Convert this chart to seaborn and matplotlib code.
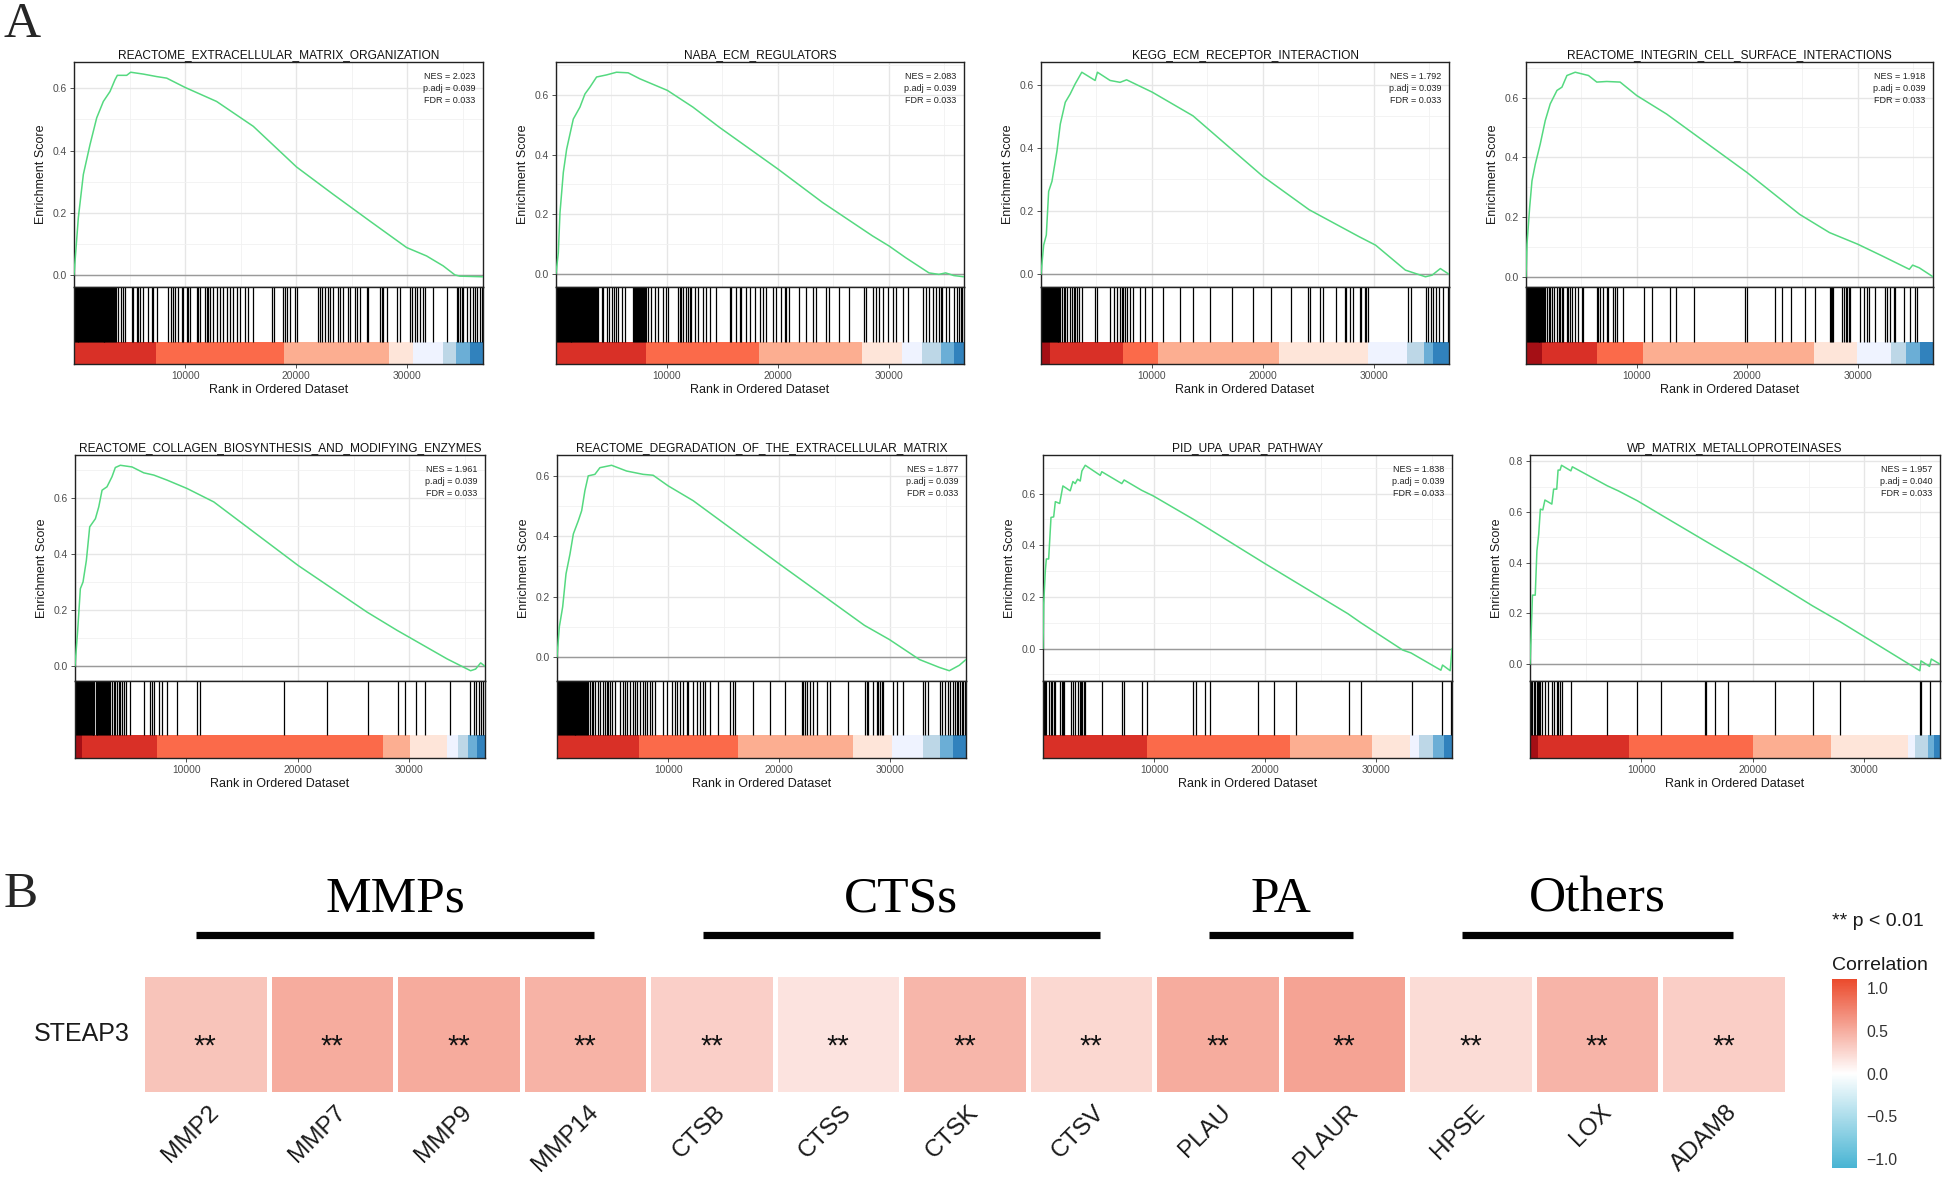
import numpy as np
import pandas as pd
import matplotlib
matplotlib.use("Agg")
import matplotlib.pyplot as plt
import matplotlib.transforms as mtransforms
import seaborn as sns
from matplotlib.colors import LinearSegmentedColormap, ListedColormap, BoundaryNorm
from matplotlib.ticker import MultipleLocator, FormatStrFormatter

# ------------------------------------------------------------------ data (A)
N_GENES = 36800

titles = ["REACTOME_EXTRACELLULAR_MATRIX_ORGANIZATION", "NABA_ECM_REGULATORS",
          "KEGG_ECM_RECEPTOR_INTERACTION", "REACTOME_INTEGRIN_CELL_SURFACE_INTERACTIONS",
          "REACTOME_COLLAGEN_BIOSYNTHESIS_AND_MODIFYING_ENZYMES",
          "REACTOME_DEGRADATION_OF_THE_EXTRACELLULAR_MATRIX",
          "PID_UPA_UPAR_PATHWAY", "WP_MATRIX_METALLOPROTEINASES"]
nes_values = [2.023, 2.083, 1.792, 1.918, 1.961, 1.877, 1.838, 1.957]
padj_values = [0.039, 0.039, 0.039, 0.039, 0.039, 0.039, 0.039, 0.040]
fdr_values = [0.033, 0.033, 0.033, 0.033, 0.033, 0.033, 0.033, 0.033]

p1_rank = [0, 390, 840, 1440, 2040, 2640, 3240, 3690, 3900, 4740, 5100, 6240, 7440, 8340, 10000,
           12830, 16130, 20030, 23330, 26630, 29930, 31720, 33220, 34270, 34720, 36800]
p1_es = [0, 0.184, 0.323, 0.419, 0.505, 0.558, 0.590, 0.628, 0.642, 0.642, 0.652, 0.646, 0.638,
         0.633, 0.603, 0.558, 0.478, 0.347, 0.259, 0.173, 0.088, 0.061, 0.029, 0.0, -0.004, -0.006]
p2_rank = [0, 210, 360, 660, 960, 1560, 2160, 2610, 3060, 3660, 4560, 5460, 6510, 7560, 10050,
           12350, 14750, 20030, 24050, 28550, 30050, 31540, 33640, 34540, 35140, 35890, 36800]
p2_es = [0, 0.071, 0.205, 0.340, 0.418, 0.519, 0.559, 0.603, 0.626, 0.660, 0.667, 0.676, 0.674,
         0.654, 0.615, 0.559, 0.491, 0.351, 0.239, 0.127, 0.093, 0.054, 0.003, -0.002, 0.003,
         -0.006, -0.010]
p3_rank = [0, 240, 480, 690, 990, 1440, 1740, 2190, 2630, 3080, 3680, 4880, 5090, 6230, 7130, 7720,
           10030, 13710, 20000, 24190, 28680, 30180, 32870, 34670, 35270, 36020, 36800]
p3_es = [0, 0.092, 0.124, 0.262, 0.294, 0.390, 0.475, 0.544, 0.570, 0.602, 0.639, 0.613, 0.639,
         0.613, 0.607, 0.615, 0.576, 0.501, 0.310, 0.204, 0.119, 0.092, 0.013, -0.008, -0.003,
         0.018, 0.0]
p4_rank = [0, 90, 330, 540, 840, 1290, 1740, 2190, 2800, 3250, 3700, 4450, 5650, 6400, 7300, 8510,
           10010, 12710, 19990, 24740, 27440, 30000, 32250, 34660, 34960, 35560, 36800]
p4_es = [0, 0.109, 0.232, 0.321, 0.377, 0.445, 0.523, 0.579, 0.624, 0.635, 0.674, 0.685, 0.674,
         0.652, 0.654, 0.652, 0.607, 0.545, 0.349, 0.209, 0.148, 0.109, 0.069, 0.025, 0.039,
         0.030, 0.0]
p5_rank = [0, 240, 480, 720, 1020, 1320, 1830, 2130, 2430, 2870, 3320, 3620, 4070, 5120, 6170, 7070,
           8260, 10060, 12460, 20030, 26230, 28920, 30420, 33410, 35510, 35960, 36410, 36800]
p5_es = [0, 0.128, 0.277, 0.301, 0.378, 0.498, 0.527, 0.569, 0.629, 0.641, 0.677, 0.710, 0.718,
         0.712, 0.691, 0.683, 0.665, 0.635, 0.587, 0.360, 0.193, 0.128, 0.094, 0.026, -0.016,
         -0.010, 0.012, 0.0]
p6_rank = [0, 210, 510, 810, 1170, 1470, 1920, 2220, 2510, 2810, 3410, 3860, 4910, 6260, 7750, 8650,
           10000, 12250, 20000, 27660, 29910, 32610, 34400, 35300, 36200, 36800]
p6_es = [0, 0.100, 0.166, 0.275, 0.341, 0.407, 0.451, 0.484, 0.550, 0.599, 0.604, 0.626, 0.634,
         0.615, 0.604, 0.601, 0.566, 0.517, 0.308, 0.105, 0.058, -0.008, -0.034, -0.045, -0.027,
         -0.008]
p7_rank = [0, 60, 210, 300, 510, 720, 960, 1110, 1500, 1790, 2450, 2690, 2900, 3110, 3350, 3500,
           3800, 5150, 5290, 7090, 7300, 8880, 9930, 13520, 20010, 27430, 28630, 32370, 33110,
           35800, 35950, 36640, 36800]
p7_es = [0, 0.17, 0.302, 0.347, 0.347, 0.508, 0.510, 0.569, 0.562, 0.630, 0.611, 0.647, 0.639,
         0.656, 0.649, 0.688, 0.710, 0.671, 0.685, 0.639, 0.653, 0.613, 0.591, 0.501, 0.328,
         0.135, 0.099, -0.006, -0.017, -0.084, -0.064, -0.086, 0.0]
p8_rank = [0, 90, 220, 470, 620, 780, 930, 1150, 1340, 1960, 2120, 2400, 2520, 2700, 2830, 3670,
           3800, 6940, 7930, 9640, 11820, 15710, 20000, 25350, 27840, 34990, 35090, 35860, 36020,
           36800]
p8_es = [0, 0.099, 0.272, 0.272, 0.447, 0.512, 0.611, 0.608, 0.647, 0.631, 0.690, 0.690, 0.765,
         0.765, 0.784, 0.762, 0.778, 0.703, 0.683, 0.644, 0.587, 0.486, 0.375, 0.230, 0.167,
         -0.026, 0.013, -0.009, 0.020, 0.0]

p1_hits = [0, 60, 150, 230, 330, 400, 490, 580, 650, 760, 830, 920, 1010, 1100, 1170, 1280, 1350,
           1440, 1530, 1610, 1700, 1790, 1880, 1960, 2050, 2140, 2230, 2300, 2410, 2480, 2570, 2660,
           2740, 2830, 2920, 3010, 3090, 3180, 3270, 3350, 3440, 3530, 3620, 3700, 3790,
           3990, 4200, 4380, 4590, 5190, 5340, 5640, 5790, 5940, 6240, 6690, 6990, 7140, 7440,
           8490, 8700, 8940, 9090, 9390, 9690, 9840, 10140, 10290, 10440, 11040, 11190, 11340,
           11790, 11940, 12090, 12240, 12540, 12840, 13140, 13440, 13740, 14040, 14340, 14640,
           14940, 15390, 15690, 16140, 17790, 18000, 18840, 18990, 19140, 19440, 19890, 20040,
           21990, 22140, 22290, 22590, 22890, 23040, 23340, 23790, 23940, 24240, 24690, 24840,
           25290, 25440, 25740, 26340, 26490, 27540, 27690, 27840, 28140, 29040, 29340, 30240,
           30390, 30690, 30840, 31140, 31440, 31590, 32340, 33540, 34440, 34590, 34740, 34890,
           35040, 35340, 35640, 35940, 36090, 36240, 36540, 36690]
p2_hits = [0, 80, 170, 260, 350, 430, 520, 610, 690, 780, 870, 960, 1040, 1130, 1220, 1310, 1390,
           1480, 1570, 1660, 1740, 1830, 1920, 2010, 2100, 2190, 2270, 2360, 2450, 2540, 2620,
           2710, 2800, 2890, 2980, 3060, 3150, 3240, 3330, 3420, 3500, 3590, 3660,
           3810, 4110, 4260, 4560, 4800, 5010, 5220, 5400, 5610, 5910, 6210,
           6960, 7050, 7140, 7230, 7320, 7410, 7500, 7590, 7680, 7770, 7860, 7950, 8040, 8160,
           8310, 8610, 8910, 9210, 9660, 9960, 10110, 11010, 11160, 11310, 11460, 11760, 11910,
           12060, 12210, 12510, 12810, 13260, 13560, 13860, 14460, 15660, 15810, 16260, 16560,
           16710, 17160, 17460, 17910, 18360, 18660, 18960, 19560, 19860, 20310, 20610, 20760,
           21060, 21960, 22560, 23160, 23460, 24360, 24660, 25560, 26460, 27810, 27960, 28560,
           28860, 29160, 29460, 29910, 30360, 30660, 31260, 31710, 33060, 33360, 33660, 33960,
           34260, 34560, 34710, 34860, 35160, 35460, 35910, 36210, 36360, 36510, 36660]
p3_hits = [0, 90, 170, 260, 350, 440, 520, 610, 700, 790, 870, 960, 1050, 1140, 1220, 1310, 1400,
           1490, 1570, 1660, 1740, 1890, 2040, 2190, 2340, 2640, 2790, 2940, 3090, 3240, 3390,
           3690, 4890, 5040, 6240, 6540, 6840, 7140, 7290, 7440, 7590, 7740, 8040, 8340, 8940,
           9390, 9990, 11040, 12540, 13740, 15240, 17190, 19140, 20790, 22590, 24090, 24240,
           25140, 25440, 26640, 27390, 27540, 27840, 28140, 28740, 28890, 29190, 29340, 29490,
           33090, 33390, 34740, 34890, 35190, 35340, 35640, 35940, 36240, 36690]
p4_hits = [0, 90, 170, 260, 350, 440, 520, 610, 700, 790, 870, 960, 1050, 1140, 1220, 1310, 1400,
           1490, 1570, 1660, 1740, 1890, 2040, 2190, 2340, 2490, 2790, 2940, 3090, 3240, 3390,
           3690, 3840, 3990, 4140, 4440, 4740, 5040, 5190, 6390, 6540, 6690, 6990, 7290, 7440,
           7890, 8040, 8190, 8790, 10650, 11400, 13050, 13590, 15180, 19830, 19950, 22530,
           23190, 24000, 25230, 26130, 27480, 27600, 27690, 27780, 28590, 28740, 28890, 29040,
           29190, 29340, 30240, 30540, 30840, 30990, 31590, 32490, 32640, 32940, 33240, 33390,
           34140, 34740, 35190, 35340]
p5_hits = [0, 90, 180, 260, 350, 440, 530, 610, 700, 790, 880, 960, 1050, 1140, 1230, 1310, 1400,
           1490, 1580, 1660, 1750, 1840, 1930, 2010, 2100, 2190, 2280, 2360, 2450, 2540, 2630,
           2710, 2800, 2890, 2980, 3030, 3180, 3330, 3480, 3630, 3780, 3930, 4080, 4230, 4440,
           4620, 4920, 6180, 6720, 6930, 7080, 7530, 7830, 8280, 9180, 10920, 11220, 18780,
           22620, 26280, 28980, 29580, 30630, 31440, 33630, 35430, 35820, 36030, 36240, 36420,
           36630]
p6_hits = [0, 90, 180, 260, 350, 440, 530, 610, 700, 790, 880, 960, 1050, 1140, 1230, 1310, 1400,
           1490, 1580, 1660, 1750, 1840, 1930, 2010, 2100, 2190, 2280, 2360, 2450, 2540, 2630,
           2710, 2820, 2970, 3120, 3270, 3420, 3720, 3870, 4170, 4320, 4470, 4620, 4770, 4920,
           5220, 5670, 5970, 6120, 6270, 6570, 6870, 7020, 7170, 7470, 7770, 7920, 8070, 8370,
           8520, 8820, 9570, 9870, 10320, 10620, 10770, 11070, 11370, 11670, 11820, 12270,
           12570, 12870, 13170, 13320, 13770, 14520, 15570, 15870, 16020, 17670, 19170, 20520,
           22020, 22170, 22320, 22470, 22770, 23070, 23370, 24270, 24570, 26220, 27720, 27870,
           28020, 28470, 28770, 28920, 29070, 29220, 29370, 30270, 30570, 31170, 32970, 33120,
           33420, 34470, 34620, 34920, 35220, 35370, 35670, 35820, 35970, 36120, 36270, 36420,
           36570, 36720]
p7_hits = [60, 210, 300, 510, 720, 810, 960, 1110, 1500, 1710, 1800, 1860, 2520, 2700, 2910,
           3120, 3300, 3420, 3510, 3660, 3810, 5310, 7110, 7260, 8910, 9360, 13500, 13800, 14610,
           15060, 19320, 20760, 22800, 27510, 28620, 33210, 35910, 36750]
p8_hits = [90, 220, 340, 470, 620, 720, 840, 930, 1090, 1340, 1650, 1960, 2110, 2390, 2520, 2710,
           2830, 3670, 6940, 9640, 11760, 15710, 15800, 16580, 17730, 22020, 25440, 27830, 34990,
           35090, 35930]

# colour band: segment end ranks and colour-bin (0 = most negative ... 9 = most positive)
p1_band_end = [7350, 18900, 28350, 30500, 33200, 34400, 35600, 36800]
p1_band_bin = [8, 7, 6, 5, 4, 3, 2, 1]
p2_band_end = [8100, 18350, 27600, 31250, 33050, 34700, 35900, 36800]
p2_band_bin = [8, 7, 6, 5, 4, 3, 2, 1]
p3_band_end = [850, 7400, 10550, 21500, 29450, 33000, 34500, 35400, 36800]
p3_band_bin = [9, 8, 7, 6, 5, 4, 3, 2, 1]
p4_band_end = [1450, 6400, 10550, 26000, 29900, 33000, 34400, 35600, 36800]
p4_band_bin = [9, 8, 7, 6, 5, 4, 3, 2, 1]
p5_band_end = [630, 7350, 27650, 30050, 33400, 34350, 35250, 36050, 36800]
p5_band_bin = [9, 8, 7, 6, 5, 4, 3, 2, 1]
p6_band_end = [7350, 16250, 26600, 30100, 32900, 34500, 35600, 36800]
p6_band_bin = [8, 7, 6, 5, 4, 3, 2, 1]
p7_band_end = [9350, 22200, 29600, 33050, 33850, 35100, 36100, 36800]
p7_band_bin = [8, 7, 6, 5, 4, 3, 2, 1]
p8_band_end = [700, 8850, 20050, 27050, 33900, 34600, 35750, 36250, 36800]
p8_band_bin = [9, 8, 7, 6, 5, 4, 3, 2, 1]

# ------------------------------------------------------------------ data (B)
genes = ["MMP2", "MMP7", "MMP9", "MMP14", "CTSB", "CTSS", "CTSK", "CTSV",
         "PLAU", "PLAUR", "HPSE", "LOX", "ADAM8"]
corr_values = [0.36, 0.50, 0.51, 0.46, 0.29, 0.17, 0.44, 0.24, 0.50, 0.55, 0.21, 0.45, 0.30]
sig_labels = ["**"] * 13
group_names = ["MMPs", "CTSs", "PA", "Others"]
group_first = [0, 4, 8, 10]
group_last = [3, 7, 9, 12]

# ------------------------------------------------------------------ style
sns.set_theme(style="white")
plt.rcParams['font.family'] = ['Liberation Sans', 'DejaVu Sans']
plt.rcParams['axes.unicode_minus'] = True
SERIF = ['Liberation Serif', 'DejaVu Serif']
GREEN = '#55D980'
BAND_COLORS = ["#08519C", "#3182BD", "#6BAED6", "#BDD7E7", "#EFF3FF",
               "#FEE5D9", "#FCAE91", "#FB6A4A", "#D93027", "#A50F15"]

W, H = 1944, 1183
fig = plt.figure(figsize=(W / 100, H / 100), dpi=100)
fig.patch.set_facecolor('white')


def px_axes(l, t, r, b):
    return fig.add_axes([l / W, 1 - b / H, (r - l) / W, (b - t) / H])


panels = [
    (p1_rank, p1_es, p1_hits, p1_band_end, p1_band_bin),
    (p2_rank, p2_es, p2_hits, p2_band_end, p2_band_bin),
    (p3_rank, p3_es, p3_hits, p3_band_end, p3_band_bin),
    (p4_rank, p4_es, p4_hits, p4_band_end, p4_band_bin),
    (p5_rank, p5_es, p5_hits, p5_band_end, p5_band_bin),
    (p6_rank, p6_es, p6_hits, p6_band_end, p6_band_bin),
    (p7_rank, p7_es, p7_hits, p7_band_end, p7_band_bin),
    (p8_rank, p8_es, p8_hits, p8_band_end, p8_band_bin),
]
row_y = [(62, 287, 342, 364), (455, 681, 735, 758)]
col_x = [[(74, 483), (556, 964), (1041, 1449), (1526, 1933)],
         [(75, 485), (557, 966), (1043, 1452), (1530, 1940)]]

band_cmap = ListedColormap(BAND_COLORS)
band_norm = BoundaryNorm(np.arange(-0.5, 10.5, 1), 10)

for k, (rk, es, hits, bend, bbin) in enumerate(panels):
    r_i, c_i = divmod(k, 4)
    top, esb, bt, bb = row_y[r_i]
    l, r = col_x[r_i][c_i]

    ax = px_axes(l, top, r, esb)
    ax.set_facecolor('white')
    ax.axhline(0, color='#9a9a9a', lw=1.0, zorder=1)
    sns.lineplot(x=rk, y=es, ax=ax, color=GREEN, lw=1.1, estimator=None, sort=False, zorder=3)
    ax.set_xlim(0, N_GENES)
    lo, hi = min(es), max(es)
    pad = 0.05 * (hi - lo)
    ax.set_ylim(lo - pad, hi + pad)
    ax.xaxis.set_major_locator(MultipleLocator(10000))
    ax.xaxis.set_minor_locator(MultipleLocator(5000))
    ax.yaxis.set_major_locator(MultipleLocator(0.2))
    ax.yaxis.set_minor_locator(MultipleLocator(0.1))
    ax.yaxis.set_major_formatter(FormatStrFormatter('%.1f'))
    ax.grid(which='major', color='#E6E6E6', lw=1.0)
    ax.grid(which='minor', color='#F1F1F1', lw=0.6)
    ax.set_axisbelow(True)
    ax.tick_params(axis='x', which='both', length=0, labelbottom=False)
    ax.tick_params(axis='y', which='major', length=3, width=0.6, color='#333333',
                   labelsize=7.4, labelcolor='#4D4D4D', pad=2, left=True)
    ax.tick_params(axis='y', which='minor', length=0)
    ax.set_ylabel('Enrichment Score', fontsize=9, labelpad=4, color='#1a1a1a')
    ax.set_xlabel('')
    for sp in ax.spines.values():
        sp.set_visible(True)
        sp.set_color('#222222')
        sp.set_linewidth(1.0)
    ax.set_title(titles[k], fontsize=8.6, pad=3, color='#111111')
    ax.text(0.982, 0.955,
            f"NES = {nes_values[k]:.3f}\np.adj = {padj_values[k]:.3f}\nFDR = {fdr_values[k]:.3f}",
            transform=ax.transAxes, ha='right', va='top', fontsize=6.5,
            linespacing=1.45, color='#222222')

    bx = px_axes(l, esb, r, bb)
    bx.set_facecolor('white')
    bx.set_xlim(0, N_GENES)
    bx.set_ylim(0, 1)
    frac = (bb - bt) / (bb - esb)
    bx.vlines(hits, frac, 1, color='black', lw=0.9)
    edges = [0] + list(bend)
    bx.pcolormesh(edges, [0, frac], np.array([bbin]), cmap=band_cmap, norm=band_norm,
                  shading='flat')
    bx.set_yticks([])
    bx.set_xticks([10000, 20000, 30000])
    bx.set_xticklabels(['10000', '20000', '30000'])
    bx.tick_params(axis='x', length=3, width=0.6, color='#333333', labelsize=7.4,
                   labelcolor='#4D4D4D', pad=2, bottom=True)
    bx.set_xlabel('Rank in Ordered Dataset', fontsize=9, labelpad=2, color='#1a1a1a')
    bx.grid(False)
    for sp in bx.spines.values():
        sp.set_visible(True)
        sp.set_color('#222222')
        sp.set_linewidth(1.0)

# ------------------------------------------------------------------ panel B
corr_cmap = LinearSegmentedColormap.from_list('corr', ['#48B4D3', '#FFFFFF', '#EB4A2C'])
corr_df = pd.DataFrame([corr_values], index=['STEAP3'], columns=genes)

hx = px_axes(142, 974, 1787, 1094)
cax = px_axes(1832, 979, 1857, 1168)
sns.heatmap(corr_df, ax=hx, cbar_ax=cax, cmap=corr_cmap, vmin=-1.1, vmax=1.1,
            linewidths=2.2, linecolor='white')

hx.set_xticks(np.arange(len(genes)) + 0.52)
hx.set_xticklabels(genes, rotation=45, ha='right', va='top', rotation_mode='anchor',
                   fontsize=17.5, color='#1a1a1a')
hx.tick_params(axis='x', length=0, pad=5)
hx.set_yticks([0.5])
hx.set_yticklabels(['STEAP3'], rotation=0, fontsize=18, va='center', color='#1a1a1a')
hx.tick_params(axis='y', length=0, pad=9)
hx.set_xlabel('')
hx.set_ylabel('')

for i, lab in enumerate(sig_labels):
    hx.text(i + 0.5, 0.675, lab, ha='center', va='baseline', fontsize=21, color='#111111')

blend = mtransforms.blended_transform_factory(hx.transData, hx.transAxes)
for name, f0, f1 in zip(group_names, group_first, group_last):
    x0 = f0 + 0.5 - 0.07
    x1 = f1 + 0.5 + 0.07
    hx.plot([x0, x1], [1.325, 1.325], transform=blend, color='black', lw=5.2,
            clip_on=False, solid_capstyle='butt')
    hx.text((x0 + x1) / 2, 1.517, name, transform=blend, ha='center', va='baseline',
            fontsize=37, family=SERIF, color='black')

cbar = hx.collections[0].colorbar
cbar.set_ticks([-1, -0.5, 0, 0.5, 1])
cbar.set_ticklabels(['\u22121.0', '\u22120.5', '0.0', '0.5', '1.0'])
cbar.outline.set_visible(False)
cax.yaxis.set_ticks_position('both')
cax.tick_params(length=4, width=1, color='white', direction='in', labelsize=11.3,
                labelcolor='#333333', pad=7, labelleft=False, labelright=True)

fig.text(1832 / W, 1 - 965 / H, 'Correlation', fontsize=14, ha='left', va='center',
         color='#1a1a1a')
fig.text(1832 / W, 1 - 921 / H, '** p < 0.01', fontsize=14, ha='left', va='center',
         color='#1a1a1a')

fig.text(3 / W, 1 - 37 / H, 'A', fontsize=37, family=SERIF, ha='left', va='baseline')
fig.text(4 / W, 1 - 907 / H, 'B', fontsize=37, family=SERIF, ha='left', va='baseline')

fig.savefig('out.png', dpi=100, facecolor='white')
